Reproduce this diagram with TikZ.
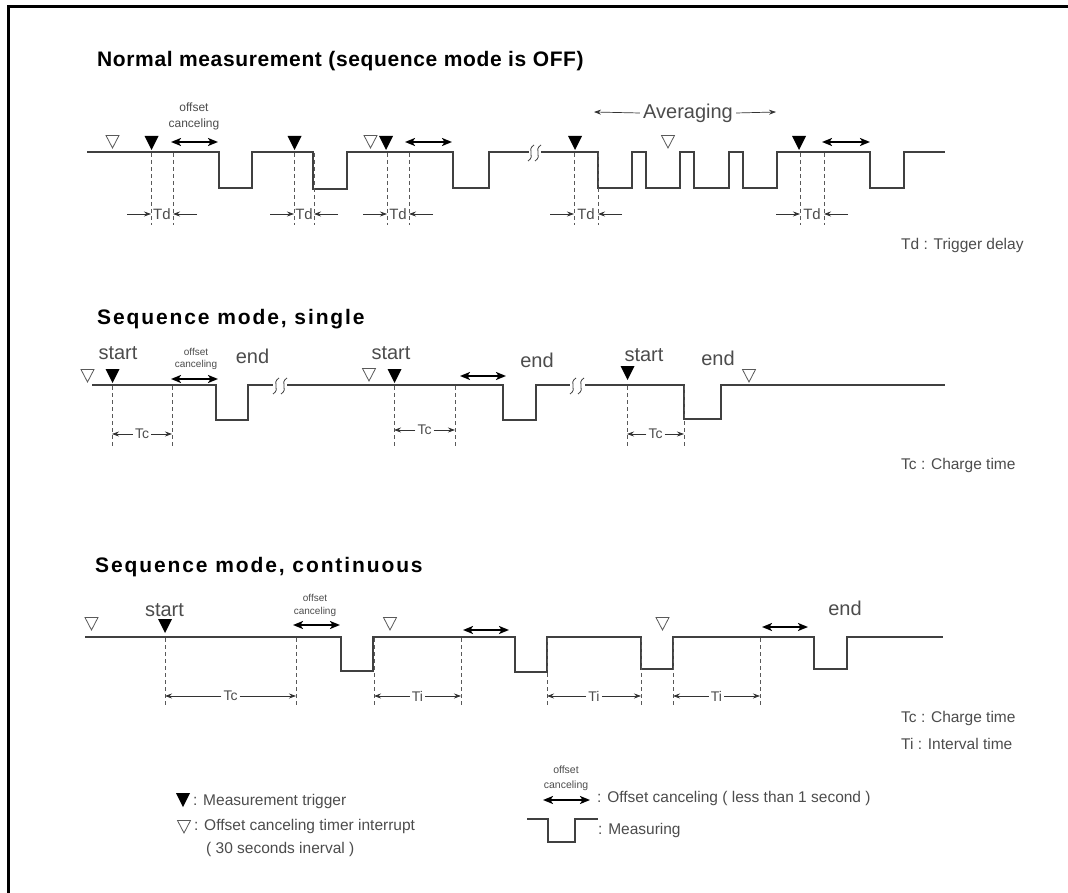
\documentclass[tikz,border=0pt]{standalone}
\usepackage{fontspec}
\setmainfont{Liberation Sans}
\newfontfamily\titlefonta[LetterSpace=3]{Liberation Sans}
\newfontfamily\titlefontb[LetterSpace=9]{Liberation Sans}
\usetikzlibrary{arrows.meta}

\newcommand\tdmark[3]{%
  \node[lbl, font=\fontsize{15}{18}\selectfont] (#3) at ({(#1+#2)/2},214) {Td};
  \coordinate (#3L) at ({#1-24},214); \coordinate (#3R) at ({#2+24},214);
  \coordinate (#3a) at (#1,214); \coordinate (#3b) at (#2,214);
  \draw[dim] (#3L) -- (#3a); \draw[dim] (#3R) -- (#3b);
}
\newcommand\tcmark[5]{%
  \coordinate (#5a) at (#1,#3); \coordinate (#5b) at (#2,#3);
  \node[lbl, font=\fontsize{14}{17}\selectfont, inner xsep=2pt] (#5) at ({(#1+#2)/2},#3) {#4};
  \draw[dim] (#5.west) -- (#5a); \draw[dim] (#5.east) -- (#5b);
}

\begin{document}
\begin{tikzpicture}[x=1pt,y=-1pt,
  sig/.style={draw=black!75, line width=1.1pt, line join=miter},
  dashln/.style={draw=black!65, line width=0.8pt, dash pattern=on 4pt off 3pt},
  dbl/.style={draw=black, line width=1.8pt, {Stealth[length=10pt,width=8pt,inset=2.5pt]}-{Stealth[length=10pt,width=8pt,inset=2.5pt]}},
  dim/.style={draw=black!80, line width=0.7pt, -{Stealth[length=7pt,width=5pt]}},
  ttla/.style={font=\titlefonta\bfseries\fontsize{21}{24}\selectfont, anchor=base west, inner sep=0},
  ttlb/.style={font=\titlefontb\bfseries\fontsize{21}{24}\selectfont, anchor=base west, inner sep=0},
  lbl/.style={text=black!70, inner sep=0},
  big/.style={lbl, font=\fontsize{20}{24}\selectfont},
  note/.style={lbl, font=\fontsize{15.5}{18}\selectfont, anchor=west},
  trig/.pic={\fill[black] (-7,-14) -- (7,-14) -- (0,0) -- cycle;},
  otrig/.pic={\draw[black!65, line width=0.8pt, line join=miter] (-6.5,-12.5) -- (6.5,-12.5) -- (0,0) -- cycle;},
  brk/.pic={\draw[black!75, line width=0.8pt] (3,-8) .. controls (-5,-3) and (5,3) .. (-3,8);}
]
\useasboundingbox (0,0) rectangle (1068,893);
% frame
\draw[line width=3pt] (7,7) -- (1068,7);
\draw[line width=3pt] (8,7) -- (8,893);

% ================= Row 1 =================
\node[ttla] (t1) at (97,67) {Normal measurement (sequence mode is OFF)};
\draw[sig] (87,152) -- (219,152) -- (219,188) -- (252,188) -- (252,152) -- (313,152)
  -- (313,189) -- (347,189) -- (347,152) -- (453,152) -- (453,188) -- (489,188) -- (489,152) -- (529,152);
\pic at (531,153) {brk}; \pic at (538,153) {brk};
\draw[sig] (541,152) -- (598,152) -- (598,188) -- (632,188) -- (632,152) -- (646,152) -- (646,188)
  -- (680,188) -- (680,152) -- (694,152) -- (694,188) -- (729,188) -- (729,152) -- (743,152)
  -- (743,188) -- (777,188) -- (777,152) -- (870,152) -- (870,188) -- (904,188) -- (904,152) -- (945,152);
\pic at (112.5,148) {otrig};
\pic at (151.5,150) {trig};
\pic at (294.5,150) {trig};
\pic at (370.5,148) {otrig};
\pic at (386,150) {trig};
\pic at (575,150) {trig};
\pic at (668,148) {otrig};
\pic at (799,150) {trig};
\foreach \x in {151,173,294,314,387,409,574,598,800,824}
  \draw[dashln] (\x,153) -- (\x,225);
\tdmark{151}{173}{tda}
\tdmark{294}{314}{tdb}
\tdmark{387}{409}{tdc}
\tdmark{574}{598}{tdd}
\tdmark{800}{824}{tde}
\draw[dbl] (171,142) -- (218,142);
\draw[dbl] (405,142) -- (452,142);
\draw[dbl] (822,142) -- (870,142);
\node[lbl, font=\fontsize{12}{16}\selectfont, align=center] (oc1) at (194,116) {offset\\canceling};
\node[big, inner xsep=3pt] (avg) at (688,113) {Averaging};
\draw[dim] (avg.west) -- (594,112);
\draw[dim] (avg.east) -- (776,112);
\node[note] (n1) at (901,245) {Td : Trigger delay};

% ================= Row 2 =================
\node[ttlb] (t2) at (97,324) {Sequence mode, single};
\draw[sig] (92,385) -- (216,385) -- (216,420) -- (248,420) -- (248,385) -- (273,385);
\pic at (276,386) {brk}; \pic at (284,386) {brk};
\draw[sig] (287,385) -- (503,385) -- (503,420) -- (536,420) -- (536,385) -- (570,385);
\pic at (573,386) {brk}; \pic at (581,386) {brk};
\draw[sig] (585,385) -- (684,385) -- (684,419) -- (721,419) -- (721,385) -- (945,385);
\pic at (87.5,382) {otrig};
\pic at (112.5,383) {trig};
\pic at (369,381) {otrig};
\pic at (394.5,383) {trig};
\pic at (627.5,380) {trig};
\pic at (749,382) {otrig};
\node[big] (s2a) at (118,353) {start};
\node[big] (s2b) at (391,353) {start};
\node[big] (s2c) at (644,355) {start};
\node[big] (e2a) at (252.5,356) {end};
\node[big] (e2b) at (537,360) {end};
\node[big] (e2c) at (718,358) {end};
\foreach \x in {112,172,394,455,627,684}
  \draw[dashln] (\x,386) -- (\x,448);
\tcmark{112}{172}{434}{Tc}{tca}
\tcmark{394}{455}{430}{Tc}{tcb}
\tcmark{627}{684}{434}{Tc}{tcc}
\draw[dbl] (171,379) -- (218,379);
\draw[dbl] (460,376) -- (506,376);
\node[lbl, font=\fontsize{10}{12}\selectfont, align=center] (oc2) at (196,359) {offset\\canceling};
\node[note] (n2) at (901,465) {Tc : Charge time};

% ================= Row 3 =================
\node[ttlb] (t3) at (95,572) {Sequence mode, continuous};
\draw[sig] (85,637) -- (341,637) -- (341,671) -- (373,671) -- (373,637) -- (515,637) -- (515,672)
  -- (547,672) -- (547,637) -- (641,637) -- (641,669) -- (673,669) -- (673,637) -- (814,637)
  -- (814,669) -- (847,669) -- (847,637) -- (943,637);
\pic at (91.5,630) {otrig};
\pic at (165,633) {trig};
\pic at (390,630) {otrig};
\pic at (662.5,630) {otrig};
\node[big] (s3) at (164.5,610) {start};
\node[big] (e3) at (845,608) {end};
\foreach \x in {165,296,374,461,547,641,673,760}
  \draw[dashln] (\x,638) -- (\x,706);
\tcmark{165}{296}{696}{Tc}{tcd}
\tcmark{374}{461}{696}{Ti}{tia}
\tcmark{547}{641}{696}{Ti}{tib}
\tcmark{673}{760}{696}{Ti}{tic}
\draw[dbl] (293,625) -- (340,625);
\draw[dbl] (463,630) -- (509,630);
\draw[dbl] (762,627) -- (808,627);
\node[lbl, font=\fontsize{10}{13}\selectfont, align=center] (oc3) at (315,605) {offset\\canceling};
\node[note] (n3) at (901,718) {Tc : Charge time};
\node[note] (n4) at (901,744) {Ti : Interval time};

% ================= Legend =================
\pic at (183,807) {trig};
\node[note] (l1) at (193,801) {: Measurement trigger};
\pic at (184,833) {otrig};
\node[note] (l2) at (194,826) {: Offset canceling timer interrupt};
\node[note] (l3) at (206,849) {( 30 seconds inerval )};
\node[lbl, font=\fontsize{10.5}{15}\selectfont, align=center] (oc4) at (566,778) {offset\\canceling};
\draw[dbl] (543,800) -- (590,800);
\node[note] (l4) at (597,798) {: Offset canceling ( less than 1 second )};
\draw[sig] (527,819) -- (548,819) -- (548,842) -- (575,842) -- (575,819) -- (598,819);
\node[note] (l5) at (598,830) {: Measuring};
\end{tikzpicture}
\end{document}
